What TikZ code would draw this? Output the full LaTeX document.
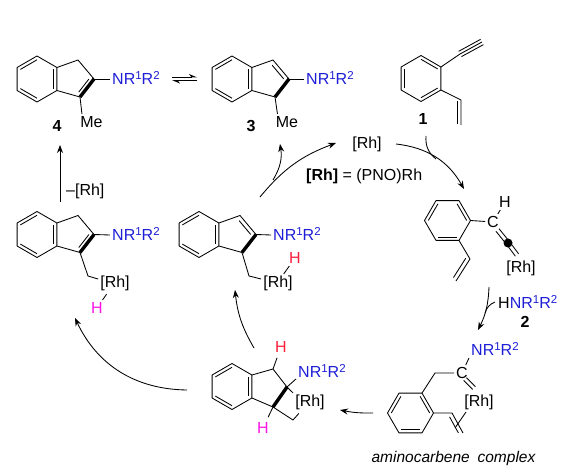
\documentclass[tikz,border=0pt]{standalone}
\usepackage{fontspec}
\setmainfont{Liberation Sans}
\usetikzlibrary{arrows.meta,calc}
\definecolor{nrblue}{RGB}{30,30,215}
\definecolor{hred}{RGB}{250,30,60}
\definecolor{hmag}{RGB}{250,20,230}
\tikzset{
  bond/.style={line width=0.85pt,line join=round},
  boldbond/.style={line width=3.4pt},
  rxn/.style={line width=0.85pt,-{Stealth[length=8pt,width=6pt]}},
  eqm/.style={line width=0.85pt,-{Stealth[length=7pt,width=6pt,harpoon]}},
  atom/.style={inner sep=2pt,text height=11.6pt,text depth=0pt,font=\fontsize{16}{18}\selectfont},
  num/.style={atom,font=\fontsize{16}{18}\selectfont\bfseries},
  blackdot/.style={circle,fill=black,minimum size=9pt,inner sep=0pt}
}
\newcommand{\supnum}[1]{\raisebox{5pt}{\fontsize{11.5}{12}\selectfont #1}}
\newcommand{\nrr}{\textcolor{nrblue}{NR\supnum{1}R\supnum{2}}}
\newcommand{\hexring}[4]{
  \begin{scope}[shift={(#2,#3)}]
  \foreach \k in {0,...,5} {
    \pgfmathsetmacro\ang{90+60*\k+#4}
    \coordinate (#1v\k) at (\ang:23);
  }
  \draw[bond] (#1v0) -- (#1v1) -- (#1v2) -- (#1v3) -- (#1v4) -- (#1v5) -- cycle;
  \foreach \k in {0,2,4} {
    \pgfmathsetmacro\ang{90+60*\k+#4}
    \draw[bond] (\ang:19.2) -- (\ang+60:19.2);
  }
  \end{scope}
}
\newcommand{\indene}[3]{
  \hexring{#1}{#2}{#3}{0}
  \begin{scope}[shift={(#2,#3)}]
  \coordinate (#1a) at (41,-19);
  \coordinate (#1b) at (57,0);
  \coordinate (#1c) at (43,18);
  \end{scope}
  \draw[bond] (#1v4) -- (#1a) -- (#1b);
  \draw[bond] (#1v5) -- (#1c);
  \draw[boldbond] (#1b) -- (#1c);
}
\newcommand{\sidebond}[4]{
  \draw[bond] ($(#1)!#3!(#2)!#4pt!90:(#2)$) -- ($(#2)!#3!(#1)!#4pt!-90:(#1)$);
}
\newcommand{\dblbond}[2]{
  \draw[bond] ($(#1)!2pt!90:(#2)$) -- ($(#2)!2pt!-90:(#1)$);
  \draw[bond] ($(#1)!2pt!-90:(#2)$) -- ($(#2)!2pt!90:(#1)$);
}
\begin{document}
\begin{tikzpicture}[x=1pt,y=-1pt]
\useasboundingbox (0,0) rectangle (576,473);

\indene{four}{37}{79}
\sidebond{fourb}{fourc}{0.14}{-4}
\node[atom,anchor=west] (fournr) at (110,79) {\nrr};
\node[atom] (fourme) at (91.5,122) {Me};
\node[num] (fournum) at (57,126) {4};
\draw[bond] (fourb) -- (fournr.west);
\draw[bond] (fourc) -- (fourme.140);

\indene{three}{232}{79}
\sidebond{threea}{threeb}{0.14}{-4}
\node[atom,anchor=west] (threenr) at (304,79) {\nrr};
\node[atom] (threeme) at (287,122) {Me};
\node[num] (threenum) at (251,126) {3};
\draw[bond] (threeb) -- (threenr.west);
\draw[bond] (threec) -- (threeme.140);

\coordinate (eqa) at (172,77);
\coordinate (eqb) at (197,77);
\coordinate (eqc) at (197,80.5);
\coordinate (eqd) at (172,80.5);
\draw[eqm] (eqa) -- (eqb);
\draw[eqm] (eqc) -- (eqd);

\hexring{one}{421}{78.5}{60}
\coordinate (onea) at (460,54);
\coordinate (oneb) at (482,42);
\coordinate (onec) at (461,100);
\coordinate (oned) at (461,125);
\draw[bond] (onev3) -- (onea) -- (oneb);
\sidebond{onea}{oneb}{0}{3}
\sidebond{onea}{oneb}{0}{-3}
\draw[bond] (onev4) -- (onec) -- (oned);
\sidebond{onec}{oned}{0.04}{-4}
\node[num] (onenum) at (423,119) {1};

\node[atom] (rhfree) at (367,143) {[Rh]};
\node[atom,anchor=west] (rhdef) at (304,175) {\textbf{[Rh]} = (PNO)Rh};

\hexring{alk}{447.5}{220.5}{90}
\node[atom] (alkc) at (493,222) {C};
\node[atom] (alkh) at (505,202) {H};
\node[blackdot] (alkdot) at (508,243) {};
\node[atom] (alkrh) at (521,267) {[Rh]};
\coordinate (alkp) at (497.5,230);
\coordinate (alkq) at (517,255);
\coordinate (alkv) at (470,259);
\coordinate (alkw) at (456,281);
\draw[bond] (alkv3) -- (alkc);
\draw[bond] (alkc) -- (alkh);
\dblbond{alkp}{alkdot}
\dblbond{alkdot}{alkq}
\draw[bond] (alkv4) -- (alkv) -- (alkw);
\sidebond{alkv}{alkw}{0.06}{-4}

\node[atom,anchor=west] (hnr) at (496,303) {H\nrr};
\node[num] (twonum) at (525,322) {2};

\hexring{am}{410.5}{413}{90}
\coordinate (amch) at (435,373);
\node[atom] (amc) at (462,373) {C};
\node[atom,anchor=west] (amnr) at (469,350) {\nrr};
\node[atom] (amrh) at (479,401) {[Rh]};
\coordinate (amp) at (465,379);
\coordinate (amq) at (474,388);
\coordinate (amv) at (452,413);
\coordinate (amw) at (463,433);
\coordinate (amx) at (466,412);
\coordinate (amy) at (455,428);
\draw[bond] (amv2) -- (amch) -- (amc);
\draw[bond] (amc) -- (amnr.south west);
\dblbond{amp}{amq}
\draw[bond] (amv3) -- (amv) -- (amw);
\sidebond{amv}{amw}{0.1}{-4}
\draw[bond] (amx) -- (amy);
\node[atom,font=\fontsize{15.5}{18}\selectfont\itshape] (amname) at (453.5,457) {aminocarbene\hspace{3.5pt} complex};

\hexring{cyc}{232}{386.5}{0}
\coordinate (cyca) at (273,369);
\coordinate (cycb) at (287,387);
\coordinate (cycc) at (273,407);
\coordinate (cycd) at (293,420);
\node[atom] (cychr) at (281,347) {\textcolor{hred}{H}};
\node[atom] (cychm) at (263,428) {\textcolor{hmag}{H}};
\node[atom,anchor=west] (cycnr) at (296,372) {\nrr};
\node[atom] (cycrh) at (310,401) {[Rh]};
\draw[bond] (cycv4) -- (cyca) -- (cycb);
\draw[bond] (cycv5) -- (cycc);
\draw[boldbond] (cycb) -- (cycc);
\draw[bond,shorten >=3pt] (cyca) -- (cychr);
\draw[bond,shorten >=3pt] (cycc) -- (cychm);
\draw[bond] (cycb) -- (cycnr.195);
\draw[bond] (cycb) -- (cycrh.north west);
\draw[bond] (cycc) -- (cycd);
\draw[bond,shorten >=6pt] (cycd) -- (cycrh);

\indene{mid}{199}{234.5}
\sidebond{mida}{midb}{0.14}{-4}
\node[atom,anchor=west] (midnr) at (271,235) {\nrr};
\coordinate (midch) at (249,276);
\node[atom] (midrh) at (278,282) {[Rh]};
\node[atom] (midh) at (295,258) {\textcolor{hred}{H}};
\draw[bond] (midb) -- (midnr.west);
\draw[bond] (midc) -- (midch) -- (midrh.170);
\draw[bond] (midrh) -- (midh);

\indene{left}{37}{234.5}
\sidebond{leftb}{leftc}{0.14}{-4}
\node[atom,anchor=west] (leftnr) at (110,235) {\nrr};
\coordinate (leftch) at (88,276);
\node[atom] (leftrh) at (115,282) {[Rh]};
\node[atom] (lefth) at (97,308) {\textcolor{hmag}{H}};
\draw[bond] (leftb) -- (leftnr.west);
\draw[bond] (leftc) -- (leftch) -- (leftrh.170);
\draw[bond,shorten <=5pt] (leftrh) -- (lefth);

\node[atom,anchor=west] (lossrh) at (64,190) {--[Rh]};

\coordinate (ta) at (60,202);
\coordinate (tb) at (60,145);
\coordinate (tc) at (260,197);
\coordinate (td) at (336,143);
\coordinate (te) at (273,180);
\coordinate (tf) at (280,144);
\coordinate (tg) at (396,144);
\coordinate (th) at (464,189);
\coordinate (ti) at (426,136);
\coordinate (tj) at (436,159);
\coordinate (tk) at (489,287);
\coordinate (tl) at (478,330);
\coordinate (tm) at (495,302);
\coordinate (tn) at (485,313);
\coordinate (tp) at (373,413);
\coordinate (tq) at (340,410);
\coordinate (tr) at (187,390);
\coordinate (ts) at (75,318);
\coordinate (tt) at (254,348);
\coordinate (tu) at (235,290);
\draw[rxn] (ta) -- (tb);
\draw[rxn] (tc) to[bend left=15] (td);
\draw[rxn] (te) to[bend right=20] (tf);
\draw[rxn] (tg) to[bend left=27] (th);
\draw[bond] (ti) to[bend right=28] (tj);
\draw[rxn] (tk) to[bend left=12] (tl);
\draw[bond] (tm) to[bend right=25] (tn);
\draw[rxn] (tp) to[bend left=6] (tq);
\draw[rxn] (tr) to[bend left=32] (ts);
\draw[rxn] (tt) to[bend left=12] (tu);
\end{tikzpicture}
\end{document}
